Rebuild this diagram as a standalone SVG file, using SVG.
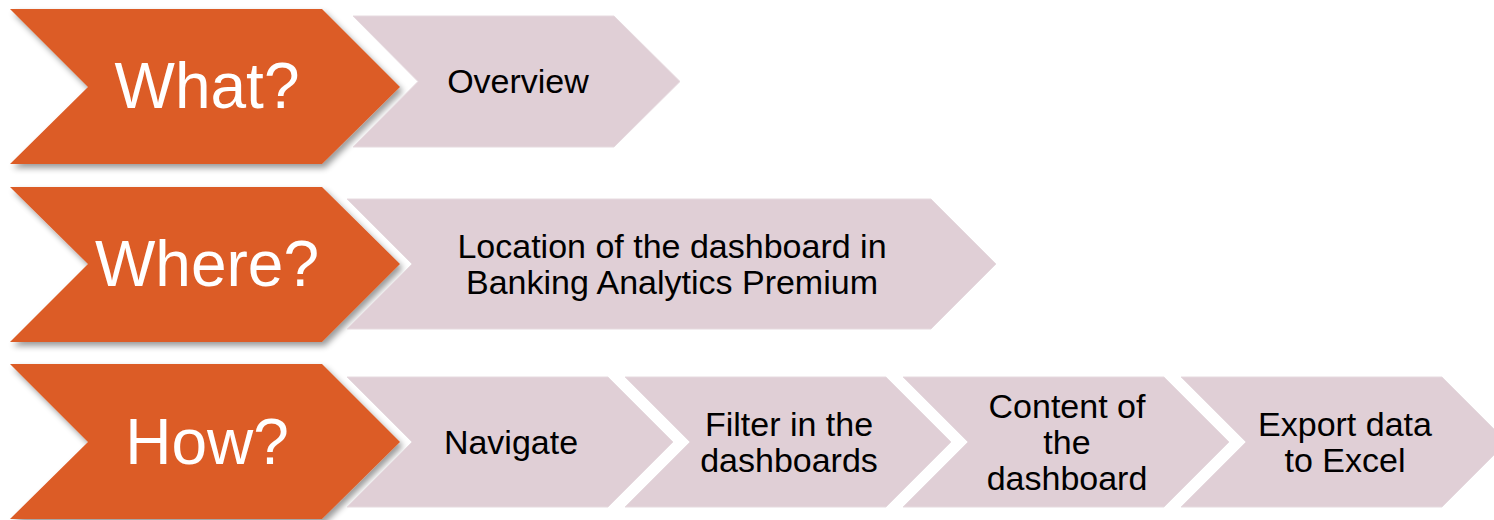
<svg xmlns="http://www.w3.org/2000/svg" width="1494" height="520" viewBox="0 0 1494 520">
  <defs>
    <filter id="shadow" x="-10%" y="-10%" width="125%" height="130%">
      <feGaussianBlur in="SourceAlpha" stdDeviation="3"/>
      <feOffset dx="3" dy="4" result="b"/>
      <feComponentTransfer><feFuncA type="linear" slope="0.4"/></feComponentTransfer>
      <feMerge><feMergeNode/><feMergeNode in="SourceGraphic"/></feMerge>
    </filter>
  </defs>
  <style>
    .orange { fill: #DC5C27; filter: url(#shadow); }
    .pink { fill: #E0CFD6; stroke: #E6DADF; stroke-width: 1; }
    .big { font-family: "Liberation Sans", Arial, sans-serif; font-size: 64px; fill: #FFFFFF; text-anchor: middle; }
    .lbl { font-family: "Liberation Sans", Arial, sans-serif; font-size: 34px; fill: #000000; text-anchor: middle; }
  </style>

  <g id="what">
    <polygon class="orange" points="10,9 322,9 400,87 322,164 10,164 88,87"/>
    <text class="big" x="207" y="108">What?</text>
  </g>
  <g id="overview">
    <polygon class="pink" points="353,16 614,16 680,81.5 614,147 353,147 418,81.5"/>
    <text class="lbl" x="518" y="93">Overview</text>
  </g>

  <g id="where">
    <polygon class="orange" points="10,187 322,187 400,264 322,342 10,342 88,264"/>
    <text class="big" x="207" y="286">Where?</text>
  </g>
  <g id="location">
    <polygon class="pink" points="347,199 931,199 996,264 931,329 347,329 412,264"/>
    <text class="lbl" x="672" y="258">Location of the dashboard in</text>
    <text class="lbl" x="672" y="294">Banking Analytics Premium</text>
  </g>

  <g id="how">
    <polygon class="orange" points="10,364 322,364 400,442 322,519 10,519 88,442"/>
    <text class="big" x="207" y="464">How?</text>
  </g>
  <g id="navigate">
    <polygon class="pink" points="347,377 608,377 673,442 608,507 347,507 412,442"/>
    <text class="lbl" x="511" y="454">Navigate</text>
  </g>
  <g id="filter">
    <polygon class="pink" points="625,377 886,377 951,442 886,507 625,507 690,442"/>
    <text class="lbl" x="789" y="436">Filter in the</text>
    <text class="lbl" x="789" y="472">dashboards</text>
  </g>
  <g id="content">
    <polygon class="pink" points="903,377 1164,377 1229,442 1164,507 903,507 968,442"/>
    <text class="lbl" x="1067" y="418">Content of</text>
    <text class="lbl" x="1067" y="454">the</text>
    <text class="lbl" x="1067" y="490">dashboard</text>
  </g>
  <g id="export">
    <polygon class="pink" points="1181,377 1442,377 1507,442 1442,507 1181,507 1246,442"/>
    <text class="lbl" x="1345" y="436">Export data</text>
    <text class="lbl" x="1345" y="472">to Excel</text>
  </g>

  <g id="connectors"></g>
</svg>
